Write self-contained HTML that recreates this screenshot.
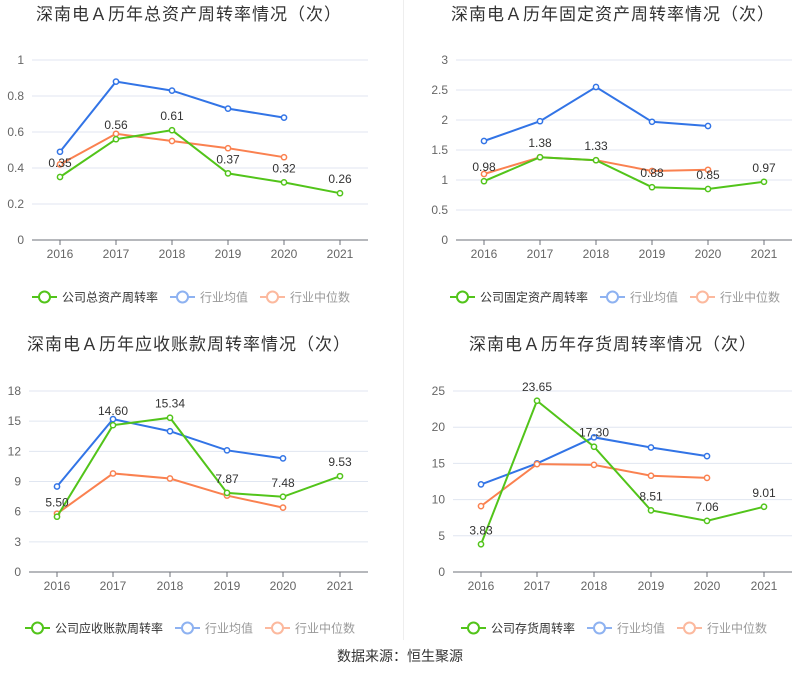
<!DOCTYPE html>
<html><head><meta charset="utf-8"><style>
html,body{margin:0;padding:0;background:#fff;width:800px;height:689px;overflow:hidden}
svg{display:block;font-family:"Liberation Sans","Noto Sans CJK SC",sans-serif}
</style></head><body>
<svg id="s" width="800" height="689" viewBox="0 0 800 689" xmlns="http://www.w3.org/2000/svg"></svg>
<script>
const G='#52c41a',B='#3274e6',O='#fa8150';
const charts=[
{title:'深南电Ａ历年总资产周转率情况（次）',tx:36,ty:20,x0:32,x1:368,xs:[60,116,172,228,284,340],y0:240,yt:60,max:1,ticks:[0,0.2,0.4,0.6,0.8,1],
 g:[.35,.56,.61,.37,.32,.26],b:[.49,.88,.83,.73,.68],o:[.42,.59,.55,.51,.46],lbl:['0.35','0.56','0.61','0.37','0.32','0.26'],
 leg:'公司总资产周转率',lx:32,ly:297},
{title:'深南电Ａ历年固定资产周转率情况（次）',tx:451,ty:20,x0:456,x1:792,xs:[484,540,596,652,708,764],y0:240,yt:60,max:3,ticks:[0,0.5,1,1.5,2,2.5,3],
 g:[.98,1.38,1.33,.88,.85,.97],b:[1.65,1.98,2.55,1.97,1.90],o:[1.1,1.38,1.33,1.15,1.17],lbl:['0.98','1.38','1.33','0.88','0.85','0.97'],
 leg:'公司固定资产周转率',lx:450,ly:297},
{title:'深南电Ａ历年应收账款周转率情况（次）',tx:27,ty:350,x0:29,x1:368,xs:[57,113,170,227,283,340],y0:572,yt:391,max:18,ticks:[0,3,6,9,12,15,18],
 g:[5.50,14.60,15.34,7.87,7.48,9.53],b:[8.5,15.2,14.0,12.1,11.3],o:[5.8,9.8,9.3,7.6,6.4],lbl:['5.50','14.60','15.34','7.87','7.48','9.53'],
 leg:'公司应收账款周转率',lx:25,ly:628},
{title:'深南电Ａ历年存货周转率情况（次）',tx:469,ty:350,x0:453,x1:792,xs:[481,537,594,651,707,764],y0:572,yt:391,max:25,ticks:[0,5,10,15,20,25],
 g:[3.83,23.65,17.30,8.51,7.06,9.01],b:[12.1,15.0,18.6,17.2,16.0],o:[9.1,14.9,14.8,13.3,13.0],lbl:['3.83','23.65','17.30','8.51','7.06','9.01'],
 leg:'公司存货周转率',lx:461,ly:628}
];
let h='<line x1="403.5" y1="0" x2="403.5" y2="640" stroke="#eee"/>';
const years=['2016','2017','2018','2019','2020','2021'];
for(const c of charts){
 const Y=v=>c.y0-(v/c.max)*(c.y0-c.yt);
 h+=`<text x="${c.tx}" y="${c.ty}" font-size="17" fill="#333" letter-spacing="1">${c.title}</text>`;
 for(const t of c.ticks){const y=Y(t);
  if(t>0)h+=`<line x1="${c.x0}" x2="${c.x1}" y1="${y}" y2="${y}" stroke="#e0e6f1"/>`;
  h+=`<text x="${c.x0-8}" y="${y+4}" font-size="12" fill="#666" text-anchor="end">${t}</text>`;}
 h+=`<line x1="${c.x0}" x2="${c.x1}" y1="${c.y0}" y2="${c.y0}" stroke="#6e7079"/>`;
 c.xs.forEach((x,i)=>{h+=`<line x1="${x}" x2="${x}" y1="${c.y0}" y2="${c.y0+5}" stroke="#6e7079"/><text x="${x}" y="${c.y0+18}" font-size="12" fill="#666" text-anchor="middle">${years[i]}</text>`;});
 for(const [d,col] of [[c.b,B],[c.o,O],[c.g,G]]){
  const pts=d.map((v,i)=>c.xs[i]+','+Y(v)).join(' ');
  h+=`<polyline points="${pts}" fill="none" stroke="${col}" stroke-width="2"/>`;
  d.forEach((v,i)=>{h+=`<circle cx="${c.xs[i]}" cy="${Y(v)}" r="2.6" fill="#fff" stroke="${col}" stroke-width="1.5"/>`;});
 }
 c.g.forEach((v,i)=>{h+=`<text x="${c.xs[i]}" y="${Y(v)-10}" font-size="12" fill="#333" text-anchor="middle">${c.lbl[i]}</text>`;});
 let x=c.lx,y=c.ly;
 const item=(col,txt,tc,op)=>{h+=`<g opacity="${op}"><line x1="${x}" x2="${x+25}" y1="${y}" y2="${y}" stroke="${col}" stroke-width="2"/><circle cx="${x+12.5}" cy="${y}" r="5.5" fill="#fff" stroke="${col}" stroke-width="2"/></g><text x="${x+30}" y="${y+4.5}" font-size="12" fill="${tc}">${txt}</text>`;x+=30+txt.length*12+12;};
 item(G,c.leg,'#333',1);item(B,'行业均值','#999',0.55);item(O,'行业中位数','#999',0.55);
}
h+='<text x="400" y="661" font-size="14" fill="#333" text-anchor="middle">数据来源：恒生聚源</text>';
document.getElementById('s').innerHTML=h;
</script>
</body></html>
